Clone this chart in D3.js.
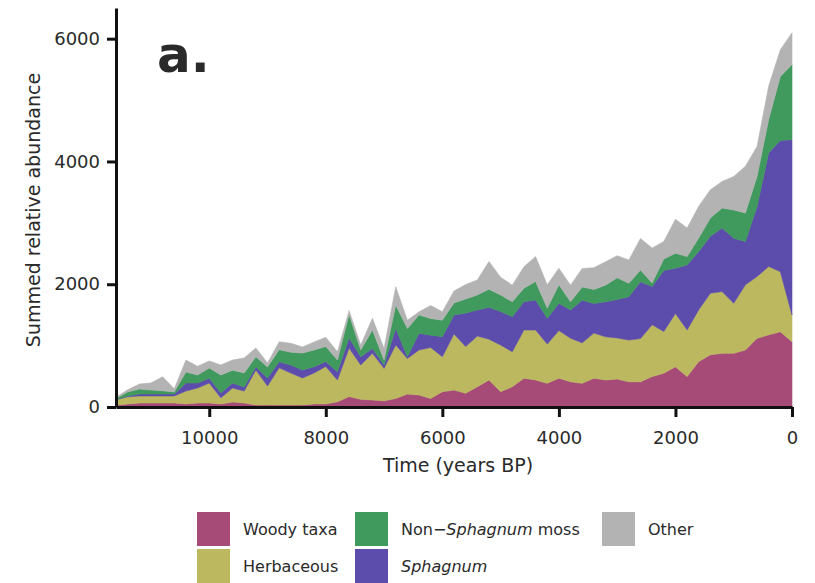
<!DOCTYPE html>
<html>
<head>
<meta charset="utf-8">
<script src="https://cdn.jsdelivr.net/npm/d3@7"></script>
<style>
  body { margin: 0; background: #fff; }
  text { font-family: "DejaVu Sans", sans-serif; fill: #2a2a2a; }
</style>
</head>
<body>
<div id="container"></div>
<script>
// Datos (años BP, cada 200 años)
const years = [11600, 11400, 11200, 11000, 10800, 10600, 10400, 10200, 10000, 9800,
               9600, 9400, 9200, 9000, 8800, 8600, 8400, 8200, 8000, 7800,
               7600, 7400, 7200, 7000, 6800, 6600, 6400, 6200, 6000, 5800,
               5600, 5400, 5200, 5000, 4800, 4600, 4400, 4200, 4000, 3800,
               3600, 3400, 3200, 3000, 2800, 2600, 2400, 2200, 2000, 1800,
               1600, 1400, 1200, 1000, 800, 600, 400, 200, 0];

const woody = [30, 50, 65, 65, 65, 65, 50, 65, 65, 50,
               80, 65, 33, 33, 33, 33, 33, 50, 50, 85,
               170, 125, 115, 100, 140, 210, 195, 140, 250, 275,
               225, 330, 440, 250, 330, 470, 440, 385, 470, 410,
               385, 470, 440, 455, 410, 410, 495, 550, 655, 495,
               740, 850, 875, 875, 930, 1120, 1175, 1225, 1065];

const herbaceous = [90, 115, 115, 115, 115, 115, 210, 245, 325, 100,
                    230, 195, 570, 310, 605, 520, 440, 505, 610, 355,
                    790, 560, 760, 530, 870, 580, 735, 830, 570, 915,
                    760, 825, 665, 760, 570, 785, 815, 640, 775, 710,
                    660, 735, 705, 670, 680, 705, 845, 680, 870, 760,
                    845, 1005, 1005, 815, 1060, 1005, 1115, 980, 435];

const sphagnum = [0, 16, 33, 33, 33, 33, 130, 80, 80, 80,
                  80, 65, 50, 130, 100, 130, 130, 100, 80, 135,
                  165, 135, 80, 55, 270, 30, 270, 200, 325, 310,
                  545, 425, 520, 545, 570, 460, 490, 420, 445, 460,
                  695, 480, 570, 625, 705, 925, 625, 995, 735, 1060,
                  950, 925, 1035, 1060, 705, 1140, 1850, 2135, 2855];

const nonSphagnum = [20, 65, 80, 65, 50, 33, 180, 130, 165, 290,
                     210, 230, 165, 180, 195, 210, 275, 275, 245, 190,
                     380, 110, 300, 80, 380, 460, 300, 270, 270, 195,
                     230, 245, 295, 270, 245, 220, 300, 165, 300, 135,
                     215, 230, 270, 355, 220, 190, 55, 185, 245, 135,
                     220, 300, 325, 460, 465, 490, 545, 1045, 1225];

const other = [20, 33, 80, 115, 230, 50, 195, 145, 115, 165,
               165, 245, 145, 65, 130, 145, 100, 130, 150, 135,
               65, 80, 190, 190, 300, 135, 50, 215, 135, 195,
               235, 245, 450, 290, 270, 350, 405, 380, 270, 270,
               300, 355, 380, 360, 380, 515, 570, 285, 555, 465,
               515, 460, 435, 545, 760, 490, 545, 435, 515];

const keys = ["woody", "herbaceous", "sphagnum", "nonSphagnum", "other"];
const colors = {
    woody: "#a64b78",
    herbaceous: "#bcb860",
    sphagnum: "#5c4cab",
    nonSphagnum: "#40995d",
    other: "#b3b3b3"
};

const xTicks = [10000, 8000, 6000, 4000, 2000, 0];
const yTicks = [0, 2000, 4000, 6000];

// Tabla para d3.stack
const table = years.map((yr, i) => ({
    year: yr,
    woody: woody[i],
    herbaceous: herbaceous[i],
    sphagnum: sphagnum[i],
    nonSphagnum: nonSphagnum[i],
    other: other[i]
}));

const WIDTH = 815,
      HEIGHT = 583;

const margin = { left: 116, right: 22, top: 8, bottom: 176 };

const svg = d3.select('#container').append('svg')
    .attr("width", WIDTH).attr("height", HEIGHT);

const xScale = d3.scaleLinear()
    .domain([11600, 0])
    .range([margin.left, 792]);

const yScale = d3.scaleLinear()
    .domain([0, 6500])
    .range([407, margin.top]);

const stacked = d3.stack().keys(keys)(table);

const area = d3.area()
    .x(d => xScale(d.data.year))
    .y0(d => yScale(d[0]))
    .y1(d => yScale(d[1]));

svg.append("g")
    .selectAll("path")
    .data(stacked)
    .join("path")
    .attr("fill", d => colors[d.key])
    .attr("stroke", d => colors[d.key])
    .attr("stroke-width", 0.6)
    .attr("d", area);

// Ejes
const xAxis = d3.axisBottom(xScale)
    .tickValues(xTicks)
    .tickFormat(d3.format("d"))
    .tickSize(10)
    .tickSizeOuter(0)
    .tickPadding(14);

const gx = svg.append("g")
    .attr("transform", `translate(0, 407)`)
    .call(xAxis);

const yAxis = d3.axisLeft(yScale)
    .tickValues(yTicks)
    .tickFormat(d3.format("d"))
    .tickSize(9)
    .tickSizeOuter(0)
    .tickPadding(7);

const gy = svg.append("g")
    .attr("transform", `translate(${margin.left}, 0)`)
    .call(yAxis);

[gx, gy].forEach(g => {
    g.select(".domain").attr("stroke", "#111").attr("stroke-width", 3);
    g.selectAll(".tick line").attr("stroke", "#111").attr("stroke-width", 3);
    g.selectAll(".tick text")
        .attr("font-family", "DejaVu Sans, sans-serif")
        .attr("font-size", 18)
        .attr("fill", "#2a2a2a");
});

// Títulos de ejes
svg.append("text")
    .attr("x", 458)
    .attr("y", 472)
    .attr("text-anchor", "middle")
    .attr("font-size", 19)
    .text("Time (years BP)");

svg.append("text")
    .attr("transform", "rotate(-90)")
    .attr("x", -210)
    .attr("y", 40)
    .attr("text-anchor", "middle")
    .attr("font-size", 19)
    .text("Summed relative abundance");

// Etiqueta del panel
svg.append("text")
    .attr("x", 157)
    .attr("y", 72)
    .attr("font-family", "Liberation Sans, Arial, sans-serif")
    .attr("font-weight", "bold")
    .attr("font-size", 50)
    .attr("fill", "#111")
    .text("a.");

// Leyenda
const legend = [
    { key: "woody", x: 197, y: 512, parts: [["Woody taxa", false]] },
    { key: "herbaceous", x: 197, y: 549, parts: [["Herbaceous", false]] },
    { key: "nonSphagnum", x: 355, y: 512, parts: [["Non\u2212", false], ["Sphagnum", true], [" moss", false]] },
    { key: "sphagnum", x: 355, y: 549, parts: [["Sphagnum", true]] },
    { key: "other", x: 602, y: 512, parts: [["Other", false]] }
];

const lg = svg.append("g");
legend.forEach(l => {
    lg.append("rect")
        .attr("x", l.x).attr("y", l.y)
        .attr("width", 33).attr("height", 34)
        .attr("fill", colors[l.key]);
    const t = lg.append("text")
        .attr("x", l.x + 46)
        .attr("y", l.y + 17)
        .attr("dominant-baseline", "central")
        .attr("font-size", 16);
    l.parts.forEach(p => {
        t.append("tspan")
            .attr("font-style", p[1] ? "italic" : "normal")
            .text(p[0]);
    });
});
</script>
</body>
</html>
